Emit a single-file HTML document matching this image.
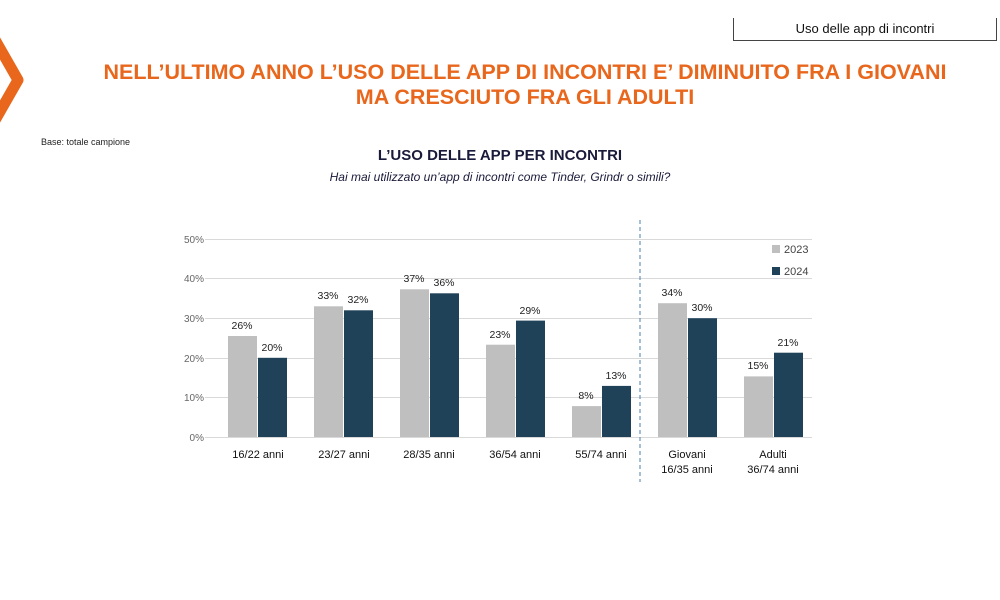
<!DOCTYPE html>
<html><head><meta charset="utf-8"><style>
body{margin:0;width:1000px;height:600px;background:#fff;position:relative;overflow:hidden;font-family:"Liberation Sans",sans-serif}
.t{position:absolute;white-space:nowrap}
</style></head><body>
<div style="position:absolute;left:733px;top:18px;width:262px;height:22px;border-left:1px solid #444;border-bottom:1px solid #444;border-right:1px solid #444"></div>
<div class="t" style="left:733px;top:21px;width:264px;text-align:center;font-size:13px;color:#111">Uso delle app di incontri</div>
<svg width="40" height="140" style="position:absolute;left:0;top:0"><polyline points="-6,38 18,80 -6,122" fill="none" stroke="#E8671C" stroke-width="11" stroke-linejoin="round"/></svg>
<div class="t" style="left:0;width:1050px;top:60px;text-align:center;font-size:21.5px;font-weight:bold;color:#E8671C;line-height:25px">NELL’ULTIMO ANNO L’USO DELLE APP DI INCONTRI E’ DIMINUITO FRA I GIOVANI<br>MA CRESCIUTO FRA GLI ADULTI</div>
<div class="t" style="left:41px;top:137px;font-size:9px;color:#222">Base: totale campione</div>
<div class="t" style="left:0;width:1000px;top:147px;text-align:center;font-size:15px;font-weight:bold;color:#1a1a3a">L’USO DELLE APP PER INCONTRI</div>
<div class="t" style="left:0;width:1000px;top:170px;text-align:center;font-size:12px;font-style:italic;color:#1a1a3a">Hai mai utilizzato un’app di incontri come Tinder, Grindr o simili?</div>
<svg width="1000" height="600" style="position:absolute;left:0;top:0" font-family="Liberation Sans, sans-serif">
<g stroke="#d9d9d9" stroke-width="1">
<line x1="205" x2="812" y1="239.5" y2="239.5"/><line x1="205" x2="812" y1="278.5" y2="278.5"/>
<line x1="205" x2="812" y1="318.5" y2="318.5"/><line x1="205" x2="812" y1="358.5" y2="358.5"/>
<line x1="205" x2="812" y1="397.5" y2="397.5"/><line x1="205" x2="812" y1="437.5" y2="437.5"/>
</g>
<g font-size="10" fill="#666" text-anchor="end">
<text x="204" y="243">50%</text><text x="204" y="282">40%</text><text x="204" y="322">30%</text>
<text x="204" y="362">20%</text><text x="204" y="401">10%</text><text x="204" y="441">0%</text>
</g>
<line x1="640" x2="640" y1="220" y2="482" stroke="#4a7fb0" stroke-dasharray="4,3" stroke-width="1"/>
<g fill="#bfbfbf">
<rect x="228" y="336" width="29" height="101"/>
<rect x="314" y="306.3" width="29" height="130.7"/>
<rect x="400" y="289.3" width="29" height="147.7"/>
<rect x="486" y="344.7" width="29" height="92.3"/>
<rect x="572" y="406.1" width="29" height="30.9"/>
<rect x="658" y="303.2" width="29" height="133.8"/>
<rect x="744" y="376.4" width="29" height="60.6"/>
</g>
<g fill="#1f4259">
<rect x="258" y="357.8" width="29" height="79.2"/>
<rect x="344" y="310.3" width="29" height="126.7"/>
<rect x="430" y="293.3" width="29" height="143.7"/>
<rect x="516" y="320.6" width="29" height="116.4"/>
<rect x="602" y="385.9" width="29" height="51.1"/>
<rect x="688" y="318.2" width="29" height="118.8"/>
<rect x="774" y="352.7" width="29" height="84.3"/>
</g>
<g font-size="10.5" fill="#222" text-anchor="middle">
<text x="242" y="329">26%</text><text x="272" y="351">20%</text>
<text x="328" y="299">33%</text><text x="358" y="303">32%</text>
<text x="414" y="282">37%</text><text x="444" y="286">36%</text>
<text x="500" y="338">23%</text><text x="530" y="314">29%</text>
<text x="586" y="399">8%</text><text x="616" y="379">13%</text>
<text x="672" y="296">34%</text><text x="702" y="311">30%</text>
<text x="758" y="369">15%</text><text x="788" y="346">21%</text>
</g>
<rect x="772" y="245" width="8" height="8" fill="#bfbfbf"/><text x="784" y="253" font-size="11" fill="#444">2023</text>
<rect x="772" y="267" width="8" height="8" fill="#1f4259"/><text x="784" y="275" font-size="11" fill="#444">2024</text>
<g font-size="11" fill="#111" text-anchor="middle">
<text x="258" y="458">16/22 anni</text><text x="344" y="458">23/27 anni</text><text x="429" y="458">28/35 anni</text>
<text x="515" y="458">36/54 anni</text><text x="601" y="458">55/74 anni</text>
<text x="687" y="458">Giovani</text><text x="687" y="473">16/35 anni</text>
<text x="773" y="458">Adulti</text><text x="773" y="473">36/74 anni</text>
</g>
</svg>
</body></html>
